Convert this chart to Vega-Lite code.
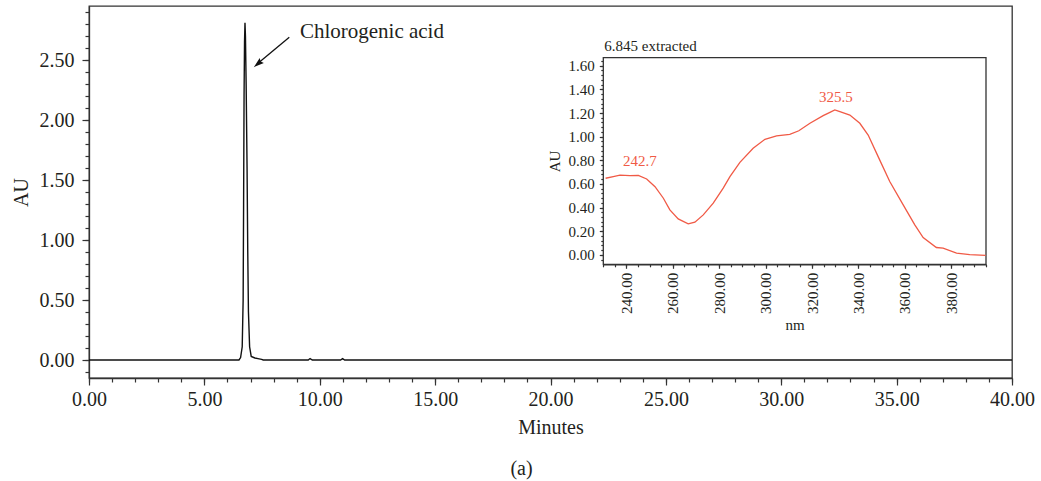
{
  "$schema": "https://vega.github.io/schema/vega-lite/v6.json",
  "width": 923,
  "height": 372,
  "autosize": "none",
  "padding": {"left": 89, "top": 6, "right": 29, "bottom": 103},
  "background": "white",
  "config": {
    "view": {"stroke": "#333", "strokeWidth": 1.3},
    "font": "Liberation Serif",
    "axis": {
      "domainColor": "#333", "tickColor": "#333", "labelColor": "#231f20", "titleColor": "#231f20",
      "labelFont": "Liberation Serif", "titleFont": "Liberation Serif", "titleFontWeight": "normal",
      "grid": false, "domainWidth": 1.3, "tickWidth": 1.2, "labelFlush": false, "labelOverlap": false
    }
  },
  "title": {"text": "(a)", "orient": "bottom", "anchor": "middle", "fontSize": 20, "font": "Liberation Serif", "fontWeight": "normal", "color": "#231f20", "offset": 22, "dx": -29},
  "datasets": {
    "chrom": [
      {"min": 0, "au": 0}, {"min": 6.5, "au": 0}, {"min": 6.57, "au": 0.02}, {"min": 6.64, "au": 0.11},
      {"min": 6.68, "au": 0.5}, {"min": 6.7, "au": 1.3}, {"min": 6.72, "au": 2.2}, {"min": 6.74, "au": 2.65},
      {"min": 6.76, "au": 2.81}, {"min": 6.78, "au": 2.7}, {"min": 6.81, "au": 2.3}, {"min": 6.85, "au": 1.6},
      {"min": 6.88, "au": 0.9}, {"min": 6.91, "au": 0.4}, {"min": 6.96, "au": 0.11}, {"min": 7.03, "au": 0.03},
      {"min": 7.19, "au": 0.017}, {"min": 7.32, "au": 0.012}, {"min": 7.48, "au": 0.005}, {"min": 7.55, "au": 0},
      {"min": 9.5, "au": 0}, {"min": 9.58, "au": 0.012}, {"min": 9.68, "au": 0},
      {"min": 10.9, "au": 0}, {"min": 10.99, "au": 0.012}, {"min": 11.08, "au": 0}, {"min": 40, "au": 0}
    ],
    "spec": [
      {"nm": 231, "au": 0.648}, {"nm": 234.3, "au": 0.662}, {"nm": 237.2, "au": 0.674}, {"nm": 241.5, "au": 0.670},
      {"nm": 245.1, "au": 0.672}, {"nm": 248.7, "au": 0.642}, {"nm": 252.3, "au": 0.577}, {"nm": 255.9, "au": 0.479},
      {"nm": 258.7, "au": 0.38}, {"nm": 262.3, "au": 0.304}, {"nm": 266.6, "au": 0.262}, {"nm": 269.5, "au": 0.276},
      {"nm": 273.1, "au": 0.338}, {"nm": 277.4, "au": 0.437}, {"nm": 281.7, "au": 0.564}, {"nm": 284.6, "au": 0.662},
      {"nm": 288.9, "au": 0.783}, {"nm": 294.6, "au": 0.902}, {"nm": 299.7, "au": 0.978}, {"nm": 304.7, "au": 1.006},
      {"nm": 310.4, "au": 1.02}, {"nm": 314.3, "au": 1.05}, {"nm": 319.1, "au": 1.113}, {"nm": 324.8, "au": 1.178},
      {"nm": 327.7, "au": 1.206}, {"nm": 329.8, "au": 1.226}, {"nm": 332.0, "au": 1.212}, {"nm": 336.3, "au": 1.183},
      {"nm": 340.6, "au": 1.113}, {"nm": 344.2, "au": 1.014}, {"nm": 348.5, "au": 0.831}, {"nm": 353.5, "au": 0.62},
      {"nm": 359.3, "au": 0.423}, {"nm": 364.3, "au": 0.254}, {"nm": 367.9, "au": 0.146}, {"nm": 373.6, "au": 0.062},
      {"nm": 376.5, "au": 0.057}, {"nm": 382.3, "au": 0.014}, {"nm": 388.0, "au": 0.002}, {"nm": 394.8, "au": -0.005}
    ]
  },
  "layer": [
    {
      "layer": [
        {
          "data": {"name": "chrom"},
          "mark": {"type": "line", "color": "#111", "strokeWidth": 1.4},
          "encoding": {
            "x": {"field": "min", "type": "quantitative", "scale": {"domain": [0, 40], "nice": false, "zero": false},
              "axis": {"orient": "bottom", "values": [0, 5, 10, 15, 20, 25, 30, 35, 40], "format": ".2f", "tickSize": 7,
                "labelFontSize": 20, "labelPadding": 4, "title": "Minutes", "titleFontSize": 20, "titlePadding": 8}},
            "y": {"field": "au", "type": "quantitative", "scale": {"domain": [-0.15, 2.95], "nice": false, "zero": false},
              "axis": {"orient": "left", "values": [0, 0.5, 1, 1.5, 2, 2.5], "format": ".2f", "tickSize": 7,
                "labelFontSize": 20, "labelPadding": 8, "title": "AU", "titleFontSize": 20, "titlePadding": 8}}
          }
        },
        {
          "data": {"values": [{"min": 9.14, "au": 2.733, "label": "Chlorogenic acid"}]},
          "mark": {"type": "text", "align": "left", "baseline": "middle", "fontSize": 21, "font": "Liberation Serif", "color": "#231f20"},
          "encoding": {
            "x": {"field": "min", "type": "quantitative",
              "axis": {"orient": "bottom", "values": [0,1,2,3,4,5,6,7,8,9,10,11,12,13,14,15,16,17,18,19,20,21,22,23,24,25,26,27,28,29,30,31,32,33,34,35,36,37,38,39,40],
                "labels": false, "domain": false, "tickSize": 4, "title": null}},
            "y": {"field": "au", "type": "quantitative",
              "axis": {"orient": "left", "values": [-0.1,0,0.1,0.2,0.3,0.4,0.5,0.6,0.7,0.8,0.9,1,1.1,1.2,1.3,1.4,1.5,1.6,1.7,1.8,1.9,2,2.1,2.2,2.3,2.4,2.5,2.6,2.7,2.8,2.9],
                "labels": false, "domain": false, "tickSize": 4, "title": null}},
            "text": {"field": "label"}
          }
        },
        {
          "data": {"values": [{"x": 8.68, "y": 2.689, "x2": 7.3, "y2": 2.468}]},
          "mark": {"type": "rule", "color": "#111", "strokeWidth": 1.3},
          "encoding": {
            "x": {"field": "x", "type": "quantitative", "axis": null},
            "y": {"field": "y", "type": "quantitative", "axis": null},
            "x2": {"field": "x2"},
            "y2": {"field": "y2"}
          }
        },
        {
          "data": {"values": [{"x": 7.34, "y": 2.472}]},
          "mark": {"type": "point", "shape": "M0,-1L0.55,0.75L0,0.5L-0.55,0.75Z", "filled": true, "color": "#111", "size": 140, "angle": 230, "opacity": 1},
          "encoding": {
            "x": {"field": "x", "type": "quantitative", "axis": null},
            "y": {"field": "y", "type": "quantitative", "axis": null}
          }
        }
      ],
      "resolve": {"axis": {"x": "independent", "y": "independent"}}
    },
    {
      "layer": [
        {
          "data": {"values": [{"x1": 230, "x2": 395, "y1": -0.08, "y2": 1.668}]},
          "mark": {"type": "rect", "fill": "white", "stroke": "#333", "strokeWidth": 1.3},
          "encoding": {
            "x": {"field": "x1", "type": "quantitative", "scale": {"domain": [230, 395], "range": [514.3, 897], "nice": false, "zero": false},
              "axis": {"orient": "bottom", "offset": -113.7, "values": [240, 260, 280, 300, 320, 340, 360, 380], "format": ".2f",
                "labelAngle": -90, "tickSize": 4, "labelFontSize": 15, "labelPadding": 4, "title": "nm", "titleFontSize": 15, "titlePadding": 4}},
            "x2": {"field": "x2"},
            "y": {"field": "y1", "type": "quantitative", "scale": {"domain": [-0.08, 1.668], "range": [258.3, 51.7], "nice": false, "zero": false},
              "axis": {"orient": "left", "offset": -514.3, "values": [0, 0.2, 0.4, 0.6, 0.8, 1, 1.2, 1.4, 1.6], "format": ".2f",
                "tickSize": 4, "labelFontSize": 15, "labelPadding": 5, "title": "AU", "titleFontSize": 15, "titlePadding": 6}},
            "y2": {"field": "y2"}
          }
        },
        {
          "data": {"name": "spec"},
          "mark": {"type": "line", "color": "#f05a46", "strokeWidth": 1.3},
          "encoding": {
            "x": {"field": "nm", "type": "quantitative",
              "axis": {"orient": "bottom", "offset": -113.7, "values": [230,235,240,245,250,255,260,265,270,275,280,285,290,295,300,305,310,315,320,325,330,335,340,345,350,355,360,365,370,375,380,385,390,395],
                "labels": false, "domain": false, "tickSize": 2.5, "title": null}},
            "y": {"field": "au", "type": "quantitative",
              "axis": {"orient": "left", "offset": -514.3, "values": [-0.04,0,0.04,0.08,0.12,0.16,0.2,0.24,0.28,0.32,0.36,0.4,0.44,0.48,0.52,0.56,0.6,0.64,0.68,0.72,0.76,0.8,0.84,0.88,0.92,0.96,1,1.04,1.08,1.12,1.16,1.2,1.24,1.28,1.32,1.36,1.4,1.44,1.48,1.52,1.56,1.6,1.64],
                "labels": false, "domain": false, "tickSize": 2.5, "title": null}}
          }
        },
        {
          "data": {"values": [{"nm": 242.7, "au": 0.672, "label": "242.7"}]},
          "mark": {"type": "text", "baseline": "alphabetic", "align": "center", "dy": -9, "dx": 7, "fontSize": 15, "font": "Liberation Serif", "color": "#f05a46"},
          "encoding": {
            "x": {"field": "nm", "type": "quantitative", "axis": null},
            "y": {"field": "au", "type": "quantitative", "axis": null},
            "text": {"field": "label"}
          }
        },
        {
          "data": {"values": [{"nm": 325.5, "au": 1.226, "label": "325.5"}]},
          "mark": {"type": "text", "baseline": "alphabetic", "align": "center", "dy": -8, "dx": 11, "fontSize": 15, "font": "Liberation Serif", "color": "#f05a46"},
          "encoding": {
            "x": {"field": "nm", "type": "quantitative", "axis": null},
            "y": {"field": "au", "type": "quantitative", "axis": null},
            "text": {"field": "label"}
          }
        },
        {
          "data": {"values": [{"nm": 230, "au": 1.668, "label": "6.845 extracted"}]},
          "mark": {"type": "text", "baseline": "alphabetic", "align": "left", "dy": -7, "dx": 1, "fontSize": 15, "font": "Liberation Serif", "color": "#231f20"},
          "encoding": {
            "x": {"field": "nm", "type": "quantitative", "axis": null},
            "y": {"field": "au", "type": "quantitative", "axis": null},
            "text": {"field": "label"}
          }
        }
      ],
      "resolve": {"axis": {"x": "independent", "y": "independent"}}
    }
  ],
  "resolve": {"scale": {"x": "independent", "y": "independent"}}
}
